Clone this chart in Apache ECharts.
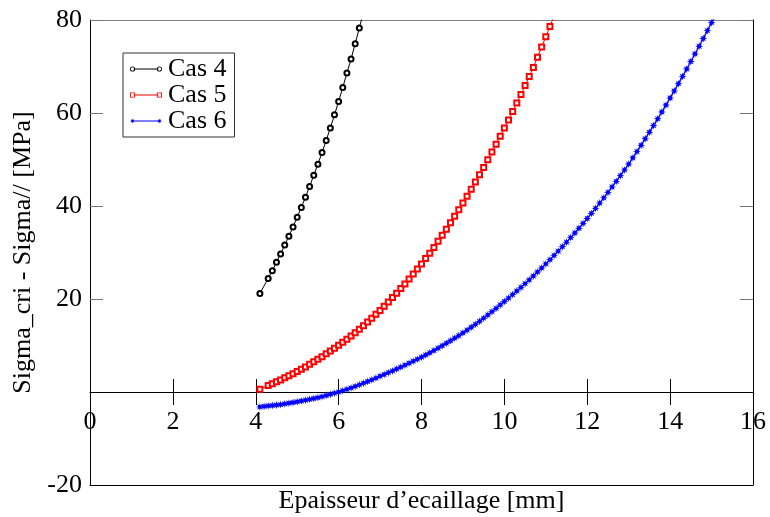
<!DOCTYPE html>
<html>
<head>
<meta charset="utf-8">
<script src="https://cdn.jsdelivr.net/npm/echarts@6/dist/echarts.min.js"></script>
<style>
html,body{margin:0;padding:0;background:#fff;}
#chart{width:770px;height:517px;}
</style>
</head>
<body>
<div id="chart"></div>
<script>
// ---- data ----
var seriesNames = ['Cas 4', 'Cas 5', 'Cas 6'];
var xAxisTitle = 'Epaisseur d\u2019ecaillage [mm]';
var yAxisTitle = 'Sigma_cri - Sigma// [MPa]';
var yTickValues = [20, 40, 60, 80];

var cas4X = [4.1, 4.3, 4.4, 4.5, 4.6, 4.7, 4.8, 4.9, 5.0, 5.1, 5.2, 5.3, 5.4, 5.5, 5.6, 5.7, 5.8, 5.9, 6.0, 6.1, 6.2, 6.3, 6.4, 6.5, 6.6];
var cas4Y = [21.2, 24.4, 26.1, 27.9, 29.7, 31.6, 33.5, 35.5, 37.6, 39.7, 41.9, 44.2, 46.6, 49.0, 51.5, 54.1, 56.8, 59.6, 62.5, 65.5, 68.6, 71.6, 74.9, 78.3, 81.8];

var cas5X = [4.1, 4.3, 4.4, 4.5, 4.6, 4.7, 4.8, 4.9, 5.0, 5.1, 5.2, 5.3, 5.4, 5.5, 5.6, 5.7, 5.8, 5.9, 6.0,
  6.1, 6.2, 6.3, 6.4, 6.5, 6.6, 6.7, 6.8, 6.9, 7.0, 7.1, 7.2, 7.3, 7.4, 7.5, 7.6, 7.7, 7.8, 7.9, 8.0,
  8.1, 8.2, 8.3, 8.4, 8.5, 8.6, 8.7, 8.8, 8.9, 9.0, 9.1, 9.2, 9.3, 9.4, 9.5, 9.6, 9.7, 9.8, 9.9, 10.0,
  10.1, 10.2, 10.3, 10.4, 10.5, 10.6, 10.7, 10.8, 10.9, 11.0, 11.1, 11.2];
var cas5Y = [0.6, 1.4, 1.8, 2.2, 2.6, 3.05, 3.5, 3.95, 4.4, 4.9, 5.4, 5.95, 6.5, 7.05, 7.6, 8.2, 8.8, 9.4, 10.05,
  10.7, 11.35, 12.05, 12.75, 13.5, 14.25, 15.05, 15.85, 16.7, 17.55, 18.45, 19.35, 20.3, 21.25, 22.25, 23.25, 24.3, 25.35, 26.45, 27.55,
  28.7, 29.85, 31.1, 32.4, 33.7, 35.0, 36.4, 37.8, 39.2, 40.65, 42.1, 43.6, 45.15, 46.7, 48.3, 49.95, 51.6, 53.3, 55.0, 56.75,
  58.5, 60.3, 62.15, 64.0, 65.9, 67.85, 69.8, 72.0, 74.2, 76.4, 78.6, 80.9];

var cas6X = [4.1, 4.2, 4.3, 4.4, 4.5, 4.6, 4.7, 4.8, 4.9, 5.0, 5.1, 5.2, 5.3, 5.4, 5.5, 5.6, 5.7, 5.8, 5.9, 6.0,
  6.1, 6.2, 6.3, 6.4, 6.5, 6.6, 6.7, 6.8, 6.9, 7.0, 7.1, 7.2, 7.3, 7.4, 7.5, 7.6, 7.7, 7.8, 7.9, 8.0,
  8.1, 8.2, 8.3, 8.4, 8.5, 8.6, 8.7, 8.8, 8.9, 9.0, 9.1, 9.2, 9.3, 9.4, 9.5, 9.6, 9.7, 9.8, 9.9, 10.0,
  10.1, 10.2, 10.3, 10.4, 10.5, 10.6, 10.7, 10.8, 10.9, 11.0, 11.1, 11.2, 11.3, 11.4, 11.5, 11.6, 11.7, 11.8, 11.9, 12.0,
  12.1, 12.2, 12.3, 12.4, 12.5, 12.6, 12.7, 12.8, 12.9, 13.0, 13.1, 13.2, 13.3, 13.4, 13.5, 13.6, 13.7, 13.8, 13.9, 14.0,
  14.1, 14.2, 14.3, 14.4, 14.5, 14.6, 14.7, 14.8, 14.9, 15.0, 15.1];
var cas6Y = [-3.2, -3.1, -3.0, -2.9, -2.8, -2.7, -2.55, -2.4, -2.25, -2.1, -1.93, -1.76, -1.58, -1.39, -1.2, -0.98, -0.75, -0.51, -0.26, 0.0,
  0.28, 0.57, 0.88, 1.2, 1.55, 1.9, 2.25, 2.62, 3.0, 3.4, 3.77, 4.15, 4.54, 4.94, 5.35, 5.77, 6.2, 6.63, 7.06, 7.5,
  7.96, 8.43, 8.92, 9.43, 9.95, 10.48, 11.02, 11.57, 12.13, 12.7, 13.3, 13.92, 14.55, 15.2, 15.87, 16.56, 17.27, 17.99, 18.72, 19.46,
  20.2, 20.95, 21.72, 22.5, 23.3, 24.12, 24.95, 25.8, 26.67, 27.55, 28.45, 29.37, 30.3, 31.25, 32.22, 33.2, 34.2, 35.22, 36.26, 37.32,
  38.4, 39.5, 40.62, 41.76, 42.92, 44.1, 45.3, 46.52, 47.76, 49.02, 50.35, 51.7, 53.07, 54.46, 55.87, 57.3, 58.75, 60.22, 61.71, 63.22,
  64.75, 66.3, 67.87, 69.46, 71.07, 72.7, 74.35, 76.02, 77.71, 79.42, 81.15];

// ---- styling helpers (icons) ----
function pairs(xs, ys) { return xs.map(function (x, i) { return [x, ys[i]]; }); }
function f(v) { return (Math.round(v * 1000) / 1000).toString(); }
function ring(cx, cy, ro, ri) {
  return 'M' + f(cx - ro) + ',' + f(cy) + ' A' + f(ro) + ',' + f(ro) + ' 0 1,1 ' + f(cx + ro) + ',' + f(cy) +
    ' A' + f(ro) + ',' + f(ro) + ' 0 1,1 ' + f(cx - ro) + ',' + f(cy) + ' Z ' +
    'M' + f(cx - ri) + ',' + f(cy) + ' A' + f(ri) + ',' + f(ri) + ' 0 1,0 ' + f(cx + ri) + ',' + f(cy) +
    ' A' + f(ri) + ',' + f(ri) + ' 0 1,0 ' + f(cx - ri) + ',' + f(cy) + ' Z ';
}
function sqRing(cx, cy, ho, hi) {
  return 'M' + f(cx - ho) + ',' + f(cy - ho) + ' L' + f(cx + ho) + ',' + f(cy - ho) + ' L' + f(cx + ho) + ',' + f(cy + ho) +
    ' L' + f(cx - ho) + ',' + f(cy + ho) + ' Z ' +
    'M' + f(cx - hi) + ',' + f(cy - hi) + ' L' + f(cx - hi) + ',' + f(cy + hi) + ' L' + f(cx + hi) + ',' + f(cy + hi) +
    ' L' + f(cx + hi) + ',' + f(cy - hi) + ' Z ';
}
function star(cx, cy, ro, ri) {
  var s = '';
  for (var k = 0; k < 16; k++) {
    var a = k * Math.PI / 8, r = (k % 2 === 0) ? ro : ri;
    s += (k === 0 ? 'M' : ' L') + f(cx + r * Math.cos(a)) + ',' + f(cy + r * Math.sin(a));
  }
  return s + ' Z ';
}
function bar(x0, x1, cy, h) {
  return 'M' + f(x0) + ',' + f(cy - h / 2) + ' L' + f(x1) + ',' + f(cy - h / 2) + ' L' + f(x1) + ',' + f(cy + h / 2) +
    ' L' + f(x0) + ',' + f(cy + h / 2) + ' Z ';
}
var W = 32, R = 2.6;
var icon4 = 'path://' + ring(R, 4, R, 1.8) + bar(R + 1, W - R - 1, 4, 1) + ring(W - R, 4, R, 1.8);
var icon5 = 'path://' + sqRing(R, 4, R, 1.7) + bar(R + 1, W - R - 1, 4, 1) + sqRing(W - R, 4, R, 1.7);
var icon6 = 'path://' + star(R, 4, R, 1.2) + bar(R, W - R, 4, 1) + star(W - R, 4, R, 1.2);
var starSymbol = 'path://' + star(1, 1, 1, 0.45);

var FONT = 'Liberation Serif';
var chart = echarts.init(document.getElementById('chart'), null, { renderer: 'canvas' });

// grid geometry (pixels)
var GRID_TOP = 20, GRID_BOTTOM = 32, GRID_H = 517 - GRID_TOP - GRID_BOTTOM;
var Y_MIN = -20, Y_MAX = 80;
var zeroFromBottom = GRID_H * (0 - Y_MIN) / (Y_MAX - Y_MIN);
var zeroFromTop = GRID_H - zeroFromBottom;

var xCommon = { type: 'value', min: 0, max: 16, interval: 2, splitLine: { show: false } };
var yCommon = { type: 'value', min: Y_MIN, max: Y_MAX, interval: 20, splitLine: { show: false } };

chart.setOption({
  animation: false,
  backgroundColor: '#fff',
  grid: { left: 90, right: 17, top: GRID_TOP, bottom: GRID_BOTTOM, containLabel: false, outerBoundsMode: 'none' },
  legend: {
    orient: 'vertical',
    left: 123, top: 53,
    padding: [3, 8, 3, 7],
    itemGap: 0,
    itemWidth: 32, itemHeight: 8,
    borderColor: '#333', borderWidth: 1,
    backgroundColor: '#fff',
    itemStyle: { borderWidth: 0 },
    textStyle: { fontFamily: FONT, fontSize: 26, color: '#000', lineHeight: 26, padding: [0, 0, 0, 1] },
    data: [
      { name: seriesNames[0], icon: icon4 },
      { name: seriesNames[1], icon: icon5 },
      { name: seriesNames[2], icon: icon6 }
    ]
  },
  xAxis: [
    Object.assign({}, xCommon, {
      position: 'bottom',
      offset: -zeroFromBottom,
      axisLine: { show: true, onZero: false, lineStyle: { color: '#000', width: 1 } },
      axisTick: { show: true, inside: false, length: 13, lineStyle: { color: '#000', width: 1 } },
      axisLabel: { show: true, margin: 17, fontFamily: FONT, fontSize: 26, color: '#000', showMinLabel: true, showMaxLabel: true, hideOverlap: false }
    }),
    Object.assign({}, xCommon, {
      position: 'top',
      offset: -zeroFromTop,
      axisLine: { show: false, onZero: false },
      axisTick: { show: true, inside: false, length: 13, lineStyle: { color: '#000', width: 1 } },
      axisLabel: { show: false }
    }),
    Object.assign({}, xCommon, {
      position: 'top',
      axisLine: { show: true, onZero: false, lineStyle: { color: '#808080', width: 1 } },
      axisTick: { show: false },
      axisLabel: { show: false }
    }),
    Object.assign({}, xCommon, {
      position: 'bottom',
      name: xAxisTitle,
      nameLocation: 'middle',
      nameGap: 3,
      nameTextStyle: { fontFamily: FONT, fontSize: 26, color: '#000' },
      axisLine: { show: true, onZero: false, lineStyle: { color: '#000', width: 1 } },
      axisTick: { show: false },
      axisLabel: { show: false }
    })
  ],
  yAxis: [
    Object.assign({}, yCommon, {
      position: 'left',
      name: yAxisTitle,
      nameLocation: 'middle',
      nameGap: 51,
      nameTextStyle: { fontFamily: FONT, fontSize: 26, color: '#000' },
      axisLine: { show: true, onZero: false, lineStyle: { color: '#000', width: 1 } },
      axisTick: { show: true, inside: true, length: 13, customValues: yTickValues, lineStyle: { color: '#777', width: 1 } },
      axisLabel: {
        show: true, margin: 8, fontFamily: FONT, fontSize: 26, color: '#000',
        formatter: function (v) { return v === 0 ? '' : String(v); }
      }
    }),
    Object.assign({}, yCommon, {
      position: 'right',
      axisLine: { show: true, onZero: false, lineStyle: { color: '#000', width: 1 } },
      axisTick: { show: true, inside: true, length: 13, customValues: yTickValues, lineStyle: { color: '#777', width: 1 } },
      axisLabel: { show: false }
    })
  ],
  series: [
    {
      name: seriesNames[0], type: 'line', xAxisIndex: 0, yAxisIndex: 0,
      data: pairs(cas4X, cas4Y),
      symbol: 'emptyCircle', symbolSize: 5, showAllSymbol: true, clip: true,
      color: '#000',
      lineStyle: { color: '#000', width: 1 },
      itemStyle: { color: '#000', borderColor: '#000', borderWidth: 0.8 }
    },
    {
      name: seriesNames[1], type: 'line', xAxisIndex: 0, yAxisIndex: 0,
      data: pairs(cas5X, cas5Y),
      symbol: 'emptyRect', symbolSize: 5, showAllSymbol: true, clip: true,
      color: '#ff0000',
      lineStyle: { color: '#ff0000', width: 1 },
      itemStyle: { color: '#ff0000', borderColor: '#ff0000', borderWidth: 0.8 }
    },
    {
      name: seriesNames[2], type: 'line', xAxisIndex: 0, yAxisIndex: 0,
      data: pairs(cas6X, cas6Y),
      symbol: starSymbol, symbolSize: 8, showAllSymbol: true, clip: true,
      color: '#0000ff',
      lineStyle: { color: '#0000ff', width: 1.3 },
      itemStyle: { color: '#0000ff', borderWidth: 0 }
    }
  ]
});
</script>
</body>
</html>
